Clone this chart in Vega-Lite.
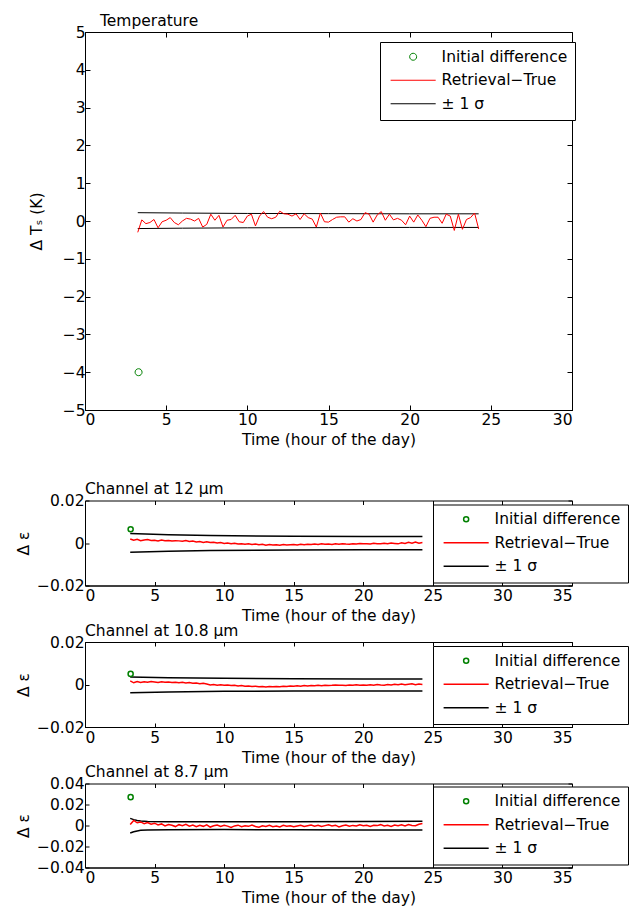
{
"$schema": "https://vega.github.io/schema/vega-lite/v6.json",
"background": "white",
"padding": {"left": 16, "top": 13, "right": 0, "bottom": 0},
"datasets": {
"red": [
{"t":3.25,"temp":-0.30,"c12":0.0019,"c108":0.0017,"c87":0.0010},
{"t":3.5,"temp":0.03,"c12":0.0013,"c108":0.0008,"c87":0.0048},
{"t":3.75,"temp":-0.07,"c12":0.0017,"c108":0.0014,"c87":0.0026},
{"t":4.0,"temp":-0.04,"c12":0.0011,"c108":0.0010,"c87":0.0034},
{"t":4.25,"temp":0.04,"c12":0.0014,"c108":0.0013,"c87":0.0018},
{"t":4.5,"temp":-0.18,"c12":0.0016,"c108":0.0011,"c87":0.0028},
{"t":4.75,"temp":-0.02,"c12":0.0012,"c108":0.0014,"c87":0.0012},
{"t":5.0,"temp":0.02,"c12":0.0013,"c108":0.0012,"c87":0.0022},
{"t":5.25,"temp":0.09,"c12":0.0010,"c108":0.0010,"c87":0.0005},
{"t":5.5,"temp":-0.04,"c12":0.0014,"c108":0.0013,"c87":0.0015},
{"t":5.75,"temp":-0.10,"c12":0.0011,"c108":0.0011,"c87":-0.0004},
{"t":6.0,"temp":0.00,"c12":0.0012,"c108":0.0012,"c87":0.0010},
{"t":6.25,"temp":0.07,"c12":0.0009,"c108":0.0010,"c87":0.0003},
{"t":6.5,"temp":0.05,"c12":0.0011,"c108":0.0011,"c87":-0.0010},
{"t":6.75,"temp":0.00,"c12":0.0010,"c108":0.0008,"c87":0.0008},
{"t":7.0,"temp":0.07,"c12":0.0008,"c108":0.0010,"c87":-0.0002},
{"t":7.25,"temp":-0.16,"c12":0.0012,"c108":0.0007,"c87":0.0012},
{"t":7.5,"temp":-0.09,"c12":0.0007,"c108":0.0009,"c87":-0.0006},
{"t":7.75,"temp":0.18,"c12":0.0009,"c108":0.0006,"c87":0.0004},
{"t":8.0,"temp":0.02,"c12":0.0005,"c108":0.0007,"c87":-0.0012},
{"t":8.25,"temp":0.15,"c12":0.0007,"c108":0.0004,"c87":0.0002},
{"t":8.5,"temp":-0.16,"c12":0.0003,"c108":0.0006,"c87":-0.0008},
{"t":8.75,"temp":0.02,"c12":0.0006,"c108":0.0002,"c87":0.0006},
{"t":9.0,"temp":0.04,"c12":0.0002,"c108":-0.0002,"c87":-0.0015},
{"t":9.25,"temp":0.15,"c12":0.0004,"c108":0.0000,"c87":-0.0003},
{"t":9.5,"temp":-0.02,"c12":0.0000,"c108":-0.0003,"c87":0.0005},
{"t":9.75,"temp":-0.04,"c12":0.0002,"c108":-0.0001,"c87":-0.0010},
{"t":10.0,"temp":0.13,"c12":-0.0002,"c108":-0.0004,"c87":0.0002},
{"t":10.25,"temp":0.18,"c12":0.0000,"c108":-0.0002,"c87":-0.0006},
{"t":10.5,"temp":-0.13,"c12":-0.0003,"c108":-0.0005,"c87":-0.0018},
{"t":10.75,"temp":0.13,"c12":-0.0001,"c108":-0.0004,"c87":-0.0004},
{"t":11.0,"temp":0.25,"c12":-0.0005,"c108":-0.0007,"c87":0.0003},
{"t":11.25,"temp":0.10,"c12":-0.0003,"c108":-0.0005,"c87":-0.0012},
{"t":11.5,"temp":0.06,"c12":-0.0006,"c108":-0.0008,"c87":-0.0002},
{"t":11.75,"temp":0.10,"c12":-0.0004,"c108":-0.0007,"c87":-0.0008},
{"t":12.0,"temp":0.26,"c12":-0.0007,"c108":-0.0009,"c87":0.0004},
{"t":12.25,"temp":0.19,"c12":-0.0005,"c108":-0.0008,"c87":-0.0010},
{"t":12.5,"temp":0.18,"c12":-0.0008,"c108":-0.0011,"c87":-0.0016},
{"t":12.75,"temp":0.13,"c12":-0.0006,"c108":-0.0009,"c87":-0.0003},
{"t":13.0,"temp":0.19,"c12":-0.0010,"c108":-0.0012,"c87":-0.0009},
{"t":13.25,"temp":0.04,"c12":-0.0007,"c108":-0.0010,"c87":0.0002},
{"t":13.5,"temp":0.19,"c12":-0.0009,"c108":-0.0011,"c87":-0.0011},
{"t":13.75,"temp":0.09,"c12":-0.0008,"c108":-0.0009,"c87":-0.0005},
{"t":14.0,"temp":0.05,"c12":-0.0010,"c108":-0.0010,"c87":-0.0014},
{"t":14.25,"temp":-0.16,"c12":-0.0007,"c108":-0.0008,"c87":0.0001},
{"t":14.5,"temp":0.21,"c12":-0.0009,"c108":-0.0009,"c87":-0.0007},
{"t":14.75,"temp":-0.02,"c12":-0.0008,"c108":-0.0007,"c87":-0.0002},
{"t":15.0,"temp":-0.03,"c12":-0.0007,"c108":-0.0008,"c87":-0.0012},
{"t":15.25,"temp":0.04,"c12":-0.0009,"c108":-0.0006,"c87":-0.0004},
{"t":15.5,"temp":0.10,"c12":-0.0006,"c108":-0.0008,"c87":0.0003},
{"t":15.75,"temp":0.11,"c12":-0.0008,"c108":-0.0005,"c87":-0.0009},
{"t":16.0,"temp":0.11,"c12":-0.0006,"c108":-0.0007,"c87":-0.0002},
{"t":16.25,"temp":-0.03,"c12":-0.0007,"c108":-0.0005,"c87":0.0005},
{"t":16.5,"temp":0.06,"c12":-0.0005,"c108":-0.0006,"c87":-0.0006},
{"t":16.75,"temp":0.00,"c12":-0.0007,"c108":-0.0004,"c87":0.0002},
{"t":17.0,"temp":0.04,"c12":-0.0004,"c108":-0.0006,"c87":-0.0010},
{"t":17.25,"temp":0.22,"c12":-0.0006,"c108":-0.0003,"c87":-0.0001},
{"t":17.5,"temp":0.18,"c12":-0.0005,"c108":-0.0005,"c87":0.0006},
{"t":17.75,"temp":-0.03,"c12":-0.0007,"c108":-0.0004,"c87":-0.0004},
{"t":18.0,"temp":0.16,"c12":-0.0004,"c108":-0.0002,"c87":0.0003},
{"t":18.25,"temp":0.25,"c12":-0.0006,"c108":-0.0004,"c87":-0.0013},
{"t":18.5,"temp":0.02,"c12":-0.0003,"c108":-0.0003,"c87":-0.0002},
{"t":18.75,"temp":0.18,"c12":-0.0005,"c108":-0.0005,"c87":0.0004},
{"t":19.0,"temp":0.03,"c12":-0.0006,"c108":-0.0002,"c87":-0.0007},
{"t":19.25,"temp":0.07,"c12":-0.0003,"c108":-0.0004,"c87":0.0001},
{"t":19.5,"temp":0.02,"c12":-0.0005,"c108":-0.0001,"c87":-0.0004},
{"t":19.75,"temp":-0.10,"c12":-0.0002,"c108":-0.0003,"c87":0.0007},
{"t":20.0,"temp":0.13,"c12":-0.0004,"c108":-0.0002,"c87":-0.0003},
{"t":20.25,"temp":-0.03,"c12":-0.0003,"c108":-0.0004,"c87":0.0002},
{"t":20.5,"temp":0.16,"c12":-0.0005,"c108":-0.0001,"c87":-0.0009},
{"t":20.75,"temp":0.02,"c12":-0.0001,"c108":-0.0003,"c87":0.0003},
{"t":21.0,"temp":-0.15,"c12":-0.0003,"c108":0.0000,"c87":-0.0001},
{"t":21.25,"temp":0.07,"c12":-0.0004,"c108":-0.0002,"c87":0.0008},
{"t":21.5,"temp":0.10,"c12":-0.0001,"c108":-0.0003,"c87":-0.0005},
{"t":21.75,"temp":0.10,"c12":-0.0003,"c108":0.0000,"c87":0.0002},
{"t":22.0,"temp":-0.06,"c12":0.0000,"c108":-0.0002,"c87":-0.0010},
{"t":22.25,"temp":0.18,"c12":-0.0002,"c108":0.0001,"c87":0.0004},
{"t":22.5,"temp":0.13,"c12":-0.0004,"c108":-0.0001,"c87":-0.0003},
{"t":22.75,"temp":-0.25,"c12":0.0001,"c108":0.0002,"c87":0.0006},
{"t":23.0,"temp":0.18,"c12":-0.0002,"c108":-0.0001,"c87":-0.0004},
{"t":23.25,"temp":-0.22,"c12":0.0003,"c108":0.0001,"c87":0.0009},
{"t":23.5,"temp":0.04,"c12":-0.0001,"c108":0.0003,"c87":0.0001},
{"t":23.75,"temp":0.09,"c12":0.0004,"c108":-0.0001,"c87":-0.0002},
{"t":24.0,"temp":0.21,"c12":-0.0001,"c108":0.0002,"c87":0.0012},
{"t":24.25,"temp":-0.21,"c12":0.0002,"c108":0.0000,"c87":0.0018}
],
"sigma": [
{"p":"temp","b":"up","t":3.25,"v":0.22},{"p":"temp","b":"up","t":6,"v":0.21},{"p":"temp","b":"up","t":10,"v":0.2},{"p":"temp","b":"up","t":15,"v":0.195},{"p":"temp","b":"up","t":20,"v":0.19},{"p":"temp","b":"up","t":24.25,"v":0.19},
{"p":"temp","b":"lo","t":3.25,"v":-0.2},{"p":"temp","b":"lo","t":6,"v":-0.19},{"p":"temp","b":"lo","t":10,"v":-0.18},{"p":"temp","b":"lo","t":15,"v":-0.175},{"p":"temp","b":"lo","t":20,"v":-0.17},{"p":"temp","b":"lo","t":24.25,"v":-0.17},
{"p":"c12","b":"up","t":3.25,"v":0.0045},{"p":"c12","b":"up","t":6,"v":0.0039},{"p":"c12","b":"up","t":9,"v":0.0035},{"p":"c12","b":"up","t":15,"v":0.0032},{"p":"c12","b":"up","t":20,"v":0.0031},{"p":"c12","b":"up","t":24.25,"v":0.0031},
{"p":"c12","b":"lo","t":3.25,"v":-0.0044},{"p":"c12","b":"lo","t":6,"v":-0.0039},{"p":"c12","b":"lo","t":9,"v":-0.0035},{"p":"c12","b":"lo","t":15,"v":-0.0033},{"p":"c12","b":"lo","t":20,"v":-0.0032},{"p":"c12","b":"lo","t":24.25,"v":-0.0032},
{"p":"c108","b":"up","t":3.25,"v":0.0035},{"p":"c108","b":"up","t":6,"v":0.0032},{"p":"c108","b":"up","t":10,"v":0.0029},{"p":"c108","b":"up","t":15,"v":0.0027},{"p":"c108","b":"up","t":20,"v":0.0026},{"p":"c108","b":"up","t":24.25,"v":0.0026},
{"p":"c108","b":"lo","t":3.25,"v":-0.0039},{"p":"c108","b":"lo","t":6,"v":-0.0035},{"p":"c108","b":"lo","t":10,"v":-0.0032},{"p":"c108","b":"lo","t":15,"v":-0.0031},{"p":"c108","b":"lo","t":20,"v":-0.003},{"p":"c108","b":"lo","t":24.25,"v":-0.003},
{"p":"c87","b":"up","t":3.25,"v":0.0068},{"p":"c87","b":"up","t":3.5,"v":0.0056},{"p":"c87","b":"up","t":3.75,"v":0.0048},{"p":"c87","b":"up","t":4,"v":0.0043},{"p":"c87","b":"up","t":4.5,"v":0.0039},{"p":"c87","b":"up","t":6,"v":0.0036},{"p":"c87","b":"up","t":10,"v":0.0035},{"p":"c87","b":"up","t":15,"v":0.0036},{"p":"c87","b":"up","t":20,"v":0.0038},{"p":"c87","b":"up","t":24.25,"v":0.004},
{"p":"c87","b":"lo","t":3.25,"v":-0.0072},{"p":"c87","b":"lo","t":3.5,"v":-0.006},{"p":"c87","b":"lo","t":3.75,"v":-0.0052},{"p":"c87","b":"lo","t":4,"v":-0.0046},{"p":"c87","b":"lo","t":4.5,"v":-0.0042},{"p":"c87","b":"lo","t":6,"v":-0.004},{"p":"c87","b":"lo","t":10,"v":-0.0039},{"p":"c87","b":"lo","t":15,"v":-0.004},{"p":"c87","b":"lo","t":20,"v":-0.0042},{"p":"c87","b":"lo","t":24.25,"v":-0.0043}
],
"init": [
{"p":"temp","t":3.3,"v":-4},
{"p":"c12","t":3.28,"v":0.0065},
{"p":"c108","t":3.28,"v":0.005},
{"p":"c87","t":3.28,"v":0.027}
]
},
"vconcat": [
{
"width": 487, "height": 378,
"title": {"text": "Temperature", "anchor": "start", "frame": "group", "dx": 15, "offset": -4},
"layer": [
{"data": {"name": "sigma"}, "transform": [{"filter": "datum.p === 'temp'"}],
 "mark": {"type": "line", "strokeWidth": 1},
 "encoding": {
  "x": {"field": "t", "type": "quantitative", "scale": {"domain": [0, 30], "nice": false}, "axis": {"orient": "top", "labels": false, "title": null, "domain": false, "values": [0,5,10,15,20,25,30], "tickSize": -5, "minExtent": 0, "labelPadding": 0}},
  "y": {"field": "v", "type": "quantitative", "scale": {"domain": [-5, 5], "nice": false}, "axis": {"orient": "right", "labels": false, "title": null, "domain": false, "values": [-5,-4,-3,-2,-1,0,1,2,3,4,5], "tickSize": -5, "minExtent": 0, "labelPadding": 0}},
  "detail": {"field": "b"},
  "color": {"datum": "± 1 σ", "type": "nominal",
   "scale": {"domain": ["Initial difference", "Retrieval−True", "± 1 σ"], "range": ["#008000", "#ff0000", "#000000"]},
   "legend": {"orient": "none", "legendX": 295, "legendY": 10, "title": null, "strokeColor": "black", "fillColor": "white", "padding": 7, "rowPadding": 6.5, "labelFontSize": 15.5, "labelLimit": 0, "symbolType": "M-4,0H4", "symbolSize": 127, "symbolOffset": 18.4, "labelOffset": 20.7, "symbolStrokeWidth": 1, "symbolFillColor": "transparent"}}
 }},
{"data": {"name": "red"},
 "mark": {"type": "line", "strokeWidth": 1},
 "encoding": {
  "x": {"field": "t", "type": "quantitative", "scale": {"domain": [0, 30], "nice": false}, "axis": {"orient": "bottom", "title": "Time (hour of the day)", "values": [0,5,10,15,20,25,30], "tickSize": -5, "labelPadding": 7, "titlePadding": 4.5}},
  "y": {"field": "temp", "type": "quantitative", "scale": {"domain": [-5, 5], "nice": false}, "axis": {"orient": "left", "title": "Δ Tₛ (K)", "values": [-5,-4,-3,-2,-1,0,1,2,3,4,5], "tickSize": -5, "labelPadding": 5, "titlePadding": 18}},
  "color": {"datum": "Retrieval−True", "type": "nominal"}
 }},
{"data": {"name": "init"}, "transform": [{"filter": "datum.p === 'temp'"}],
 "mark": {"type": "point", "size": 127, "strokeWidth": 1, "filled": false, "opacity": 1},
 "encoding": {
  "x": {"field": "t", "type": "quantitative", "axis": null},
  "y": {"field": "v", "type": "quantitative", "axis": null},
  "color": {"datum": "Initial difference", "type": "nominal"},
  "shape": {"datum": "Initial difference", "type": "nominal",
   "scale": {"domain": ["Initial difference", "Retrieval−True", "± 1 σ"], "range": ["M0.62,0A0.62,0.62,0,1,1,-0.62,0A0.62,0.62,0,1,1,0.62,0Z", "M-4,0H4", "M-4,0H4"]},
   "legend": {"orient": "none", "legendX": 295, "legendY": 10, "title": null, "strokeColor": "black", "fillColor": "white", "padding": 7, "rowPadding": 6.5, "labelFontSize": 15.5, "labelLimit": 0, "symbolSize": 127, "symbolOffset": 18.4, "labelOffset": 20.7, "symbolStrokeWidth": 1, "symbolFillColor": "transparent"}}
 }}
]
},
{
"vconcat": [
{
"width": 487, "height": 85,
"title": {"text": "Channel at 12 µm", "anchor": "start", "frame": "group", "offset": -4},
"layer": [
{"data": {"name": "sigma"}, "transform": [{"filter": "datum.p === 'c12'"}],
 "mark": {"type": "line", "strokeWidth": 1.5},
 "encoding": {
  "x": {"field": "t", "type": "quantitative", "scale": {"domain": [0, 35], "nice": false}, "axis": {"orient": "top", "labels": false, "title": null, "domain": false, "values": [0,5,10,15,20,25,30,35], "tickSize": -4, "minExtent": 0, "labelPadding": 0}},
  "y": {"field": "v", "type": "quantitative", "scale": {"domain": [-0.02, 0.02], "nice": false}, "axis": {"orient": "right", "labels": false, "title": null, "domain": false, "values": [-0.02,0,0.02], "tickSize": -4, "minExtent": 0, "labelPadding": 0}},
  "detail": {"field": "b"},
  "color": {"datum": "± 1 σ", "type": "nominal",
   "scale": {"domain": ["Initial difference", "Retrieval−True", "± 1 σ"], "range": ["#008000", "#ff0000", "#000000"]},
   "legend": {"orient": "none", "legendX": 348, "legendY": 4, "title": null, "strokeColor": "black", "fillColor": "white", "padding": 7, "rowPadding": 6.5, "labelFontSize": 15.5, "labelLimit": 0, "symbolType": "M-4,0H4", "symbolSize": 127, "symbolOffset": 18.4, "labelOffset": 20.7, "symbolStrokeWidth": 1.5, "symbolFillColor": "transparent"}}
 }},
{"data": {"name": "red"},
 "mark": {"type": "line", "strokeWidth": 1.5},
 "encoding": {
  "x": {"field": "t", "type": "quantitative", "scale": {"domain": [0, 35], "nice": false}, "axis": {"orient": "bottom", "title": "Time (hour of the day)", "values": [0,5,10,15,20,25,30,35], "tickSize": -4, "labelPadding": 7, "titlePadding": 4.5}},
  "y": {"field": "c12", "type": "quantitative", "scale": {"domain": [-0.02, 0.02], "nice": false}, "axis": {"orient": "left", "title": "Δ ε", "values": [-0.02,0,0.02], "format": "~g", "tickSize": -4, "labelPadding": 5, "titlePadding": 5}},
  "color": {"datum": "Retrieval−True", "type": "nominal"}
 }},
{"data": {"name": "init"}, "transform": [{"filter": "datum.p === 'c12'"}],
 "mark": {"type": "point", "size": 127, "strokeWidth": 1.5, "filled": false, "opacity": 1},
 "encoding": {
  "x": {"field": "t", "type": "quantitative", "axis": null},
  "y": {"field": "v", "type": "quantitative", "axis": null},
  "color": {"datum": "Initial difference", "type": "nominal"},
  "shape": {"datum": "Initial difference", "type": "nominal",
   "scale": {"domain": ["Initial difference", "Retrieval−True", "± 1 σ"], "range": ["M0.45,0A0.45,0.45,0,1,1,-0.45,0A0.45,0.45,0,1,1,0.45,0Z", "M-4,0H4", "M-4,0H4"]},
   "legend": {"orient": "none", "legendX": 348, "legendY": 4, "title": null, "strokeColor": "black", "fillColor": "white", "padding": 7, "rowPadding": 6.5, "labelFontSize": 15.5, "labelLimit": 0, "symbolSize": 127, "symbolOffset": 18.4, "labelOffset": 20.7, "symbolStrokeWidth": 1.5, "symbolFillColor": "transparent"}}
 }}
]
},
{
"width": 487, "height": 85,
"title": {"text": "Channel at 10.8 µm", "anchor": "start", "frame": "group", "offset": -4},
"layer": [
{"data": {"name": "sigma"}, "transform": [{"filter": "datum.p === 'c108'"}],
 "mark": {"type": "line", "strokeWidth": 1.5},
 "encoding": {
  "x": {"field": "t", "type": "quantitative", "scale": {"domain": [0, 35], "nice": false}, "axis": {"orient": "top", "labels": false, "title": null, "domain": false, "values": [0,5,10,15,20,25,30,35], "tickSize": -4, "minExtent": 0, "labelPadding": 0}},
  "y": {"field": "v", "type": "quantitative", "scale": {"domain": [-0.02, 0.02], "nice": false}, "axis": {"orient": "right", "labels": false, "title": null, "domain": false, "values": [-0.02,0,0.02], "tickSize": -4, "minExtent": 0, "labelPadding": 0}},
  "detail": {"field": "b"},
  "color": {"datum": "± 1 σ", "type": "nominal",
   "scale": {"domain": ["Initial difference", "Retrieval−True", "± 1 σ"], "range": ["#008000", "#ff0000", "#000000"]},
   "legend": {"orient": "none", "legendX": 348, "legendY": 4, "title": null, "strokeColor": "black", "fillColor": "white", "padding": 7, "rowPadding": 6.5, "labelFontSize": 15.5, "labelLimit": 0, "symbolType": "M-4,0H4", "symbolSize": 127, "symbolOffset": 18.4, "labelOffset": 20.7, "symbolStrokeWidth": 1.5, "symbolFillColor": "transparent"}}
 }},
{"data": {"name": "red"},
 "mark": {"type": "line", "strokeWidth": 1.5},
 "encoding": {
  "x": {"field": "t", "type": "quantitative", "scale": {"domain": [0, 35], "nice": false}, "axis": {"orient": "bottom", "title": "Time (hour of the day)", "values": [0,5,10,15,20,25,30,35], "tickSize": -4, "labelPadding": 7, "titlePadding": 4.5}},
  "y": {"field": "c108", "type": "quantitative", "scale": {"domain": [-0.02, 0.02], "nice": false}, "axis": {"orient": "left", "title": "Δ ε", "values": [-0.02,0,0.02], "format": "~g", "tickSize": -4, "labelPadding": 5, "titlePadding": 5}},
  "color": {"datum": "Retrieval−True", "type": "nominal"}
 }},
{"data": {"name": "init"}, "transform": [{"filter": "datum.p === 'c108'"}],
 "mark": {"type": "point", "size": 127, "strokeWidth": 1.5, "filled": false, "opacity": 1},
 "encoding": {
  "x": {"field": "t", "type": "quantitative", "axis": null},
  "y": {"field": "v", "type": "quantitative", "axis": null},
  "color": {"datum": "Initial difference", "type": "nominal"},
  "shape": {"datum": "Initial difference", "type": "nominal",
   "scale": {"domain": ["Initial difference", "Retrieval−True", "± 1 σ"], "range": ["M0.45,0A0.45,0.45,0,1,1,-0.45,0A0.45,0.45,0,1,1,0.45,0Z", "M-4,0H4", "M-4,0H4"]},
   "legend": {"orient": "none", "legendX": 348, "legendY": 4, "title": null, "strokeColor": "black", "fillColor": "white", "padding": 7, "rowPadding": 6.5, "labelFontSize": 15.5, "labelLimit": 0, "symbolSize": 127, "symbolOffset": 18.4, "labelOffset": 20.7, "symbolStrokeWidth": 1.5, "symbolFillColor": "transparent"}}
 }}
]
},
{
"width": 487, "height": 84,
"title": {"text": "Channel at 8.7 µm", "anchor": "start", "frame": "group", "offset": -4},
"layer": [
{"data": {"name": "sigma"}, "transform": [{"filter": "datum.p === 'c87'"}],
 "mark": {"type": "line", "strokeWidth": 1.5},
 "encoding": {
  "x": {"field": "t", "type": "quantitative", "scale": {"domain": [0, 35], "nice": false}, "axis": {"orient": "top", "labels": false, "title": null, "domain": false, "values": [0,5,10,15,20,25,30,35], "tickSize": -4, "minExtent": 0, "labelPadding": 0}},
  "y": {"field": "v", "type": "quantitative", "scale": {"domain": [-0.04, 0.04], "nice": false}, "axis": {"orient": "right", "labels": false, "title": null, "domain": false, "values": [-0.04,-0.02,0,0.02,0.04], "tickSize": -4, "minExtent": 0, "labelPadding": 0}},
  "detail": {"field": "b"},
  "color": {"datum": "± 1 σ", "type": "nominal",
   "scale": {"domain": ["Initial difference", "Retrieval−True", "± 1 σ"], "range": ["#008000", "#ff0000", "#000000"]},
   "legend": {"orient": "none", "legendX": 348, "legendY": 3, "title": null, "strokeColor": "black", "fillColor": "white", "padding": 7, "rowPadding": 6.5, "labelFontSize": 15.5, "labelLimit": 0, "symbolType": "M-4,0H4", "symbolSize": 127, "symbolOffset": 18.4, "labelOffset": 20.7, "symbolStrokeWidth": 1.5, "symbolFillColor": "transparent"}}
 }},
{"data": {"name": "red"},
 "mark": {"type": "line", "strokeWidth": 1.5},
 "encoding": {
  "x": {"field": "t", "type": "quantitative", "scale": {"domain": [0, 35], "nice": false}, "axis": {"orient": "bottom", "title": "Time (hour of the day)", "values": [0,5,10,15,20,25,30,35], "tickSize": -4, "labelPadding": 7, "titlePadding": 4.5}},
  "y": {"field": "c87", "type": "quantitative", "scale": {"domain": [-0.04, 0.04], "nice": false}, "axis": {"orient": "left", "title": "Δ ε", "values": [-0.04,-0.02,0,0.02,0.04], "format": "~g", "tickSize": -4, "labelPadding": 5, "titlePadding": 5}},
  "color": {"datum": "Retrieval−True", "type": "nominal"}
 }},
{"data": {"name": "init"}, "transform": [{"filter": "datum.p === 'c87'"}],
 "mark": {"type": "point", "size": 127, "strokeWidth": 1.5, "filled": false, "opacity": 1},
 "encoding": {
  "x": {"field": "t", "type": "quantitative", "axis": null},
  "y": {"field": "v", "type": "quantitative", "axis": null},
  "color": {"datum": "Initial difference", "type": "nominal"},
  "shape": {"datum": "Initial difference", "type": "nominal",
   "scale": {"domain": ["Initial difference", "Retrieval−True", "± 1 σ"], "range": ["M0.45,0A0.45,0.45,0,1,1,-0.45,0A0.45,0.45,0,1,1,0.45,0Z", "M-4,0H4", "M-4,0H4"]},
   "legend": {"orient": "none", "legendX": 348, "legendY": 3, "title": null, "strokeColor": "black", "fillColor": "white", "padding": 7, "rowPadding": 6.5, "labelFontSize": 15.5, "labelLimit": 0, "symbolSize": 127, "symbolOffset": 18.4, "labelOffset": 20.7, "symbolStrokeWidth": 1.5, "symbolFillColor": "transparent"}}
 }}
]
}
],
"spacing": -1.5,
"resolve": {"scale": {"color": "independent", "shape": "independent"}, "legend": {"color": "independent", "shape": "independent"}}
}
],
"spacing": 33.5,
"resolve": {"scale": {"color": "independent", "shape": "independent"}, "legend": {"color": "independent", "shape": "independent"}},
"config": {
 "font": "DejaVu Sans",
 "view": {"stroke": "black", "strokeWidth": 1},
 "axis": {"labelFont": "DejaVu Sans", "titleFont": "DejaVu Sans", "labelFontSize": 15.5, "titleFontSize": 15.5, "titleFontWeight": "normal", "labelColor": "black", "titleColor": "black", "domainColor": "black", "tickColor": "black", "grid": false},
 "legend": {"labelFont": "DejaVu Sans", "labelColor": "black"},
 "title": {"font": "DejaVu Sans", "fontSize": 15.5, "fontWeight": "normal", "color": "black"}
}
}
